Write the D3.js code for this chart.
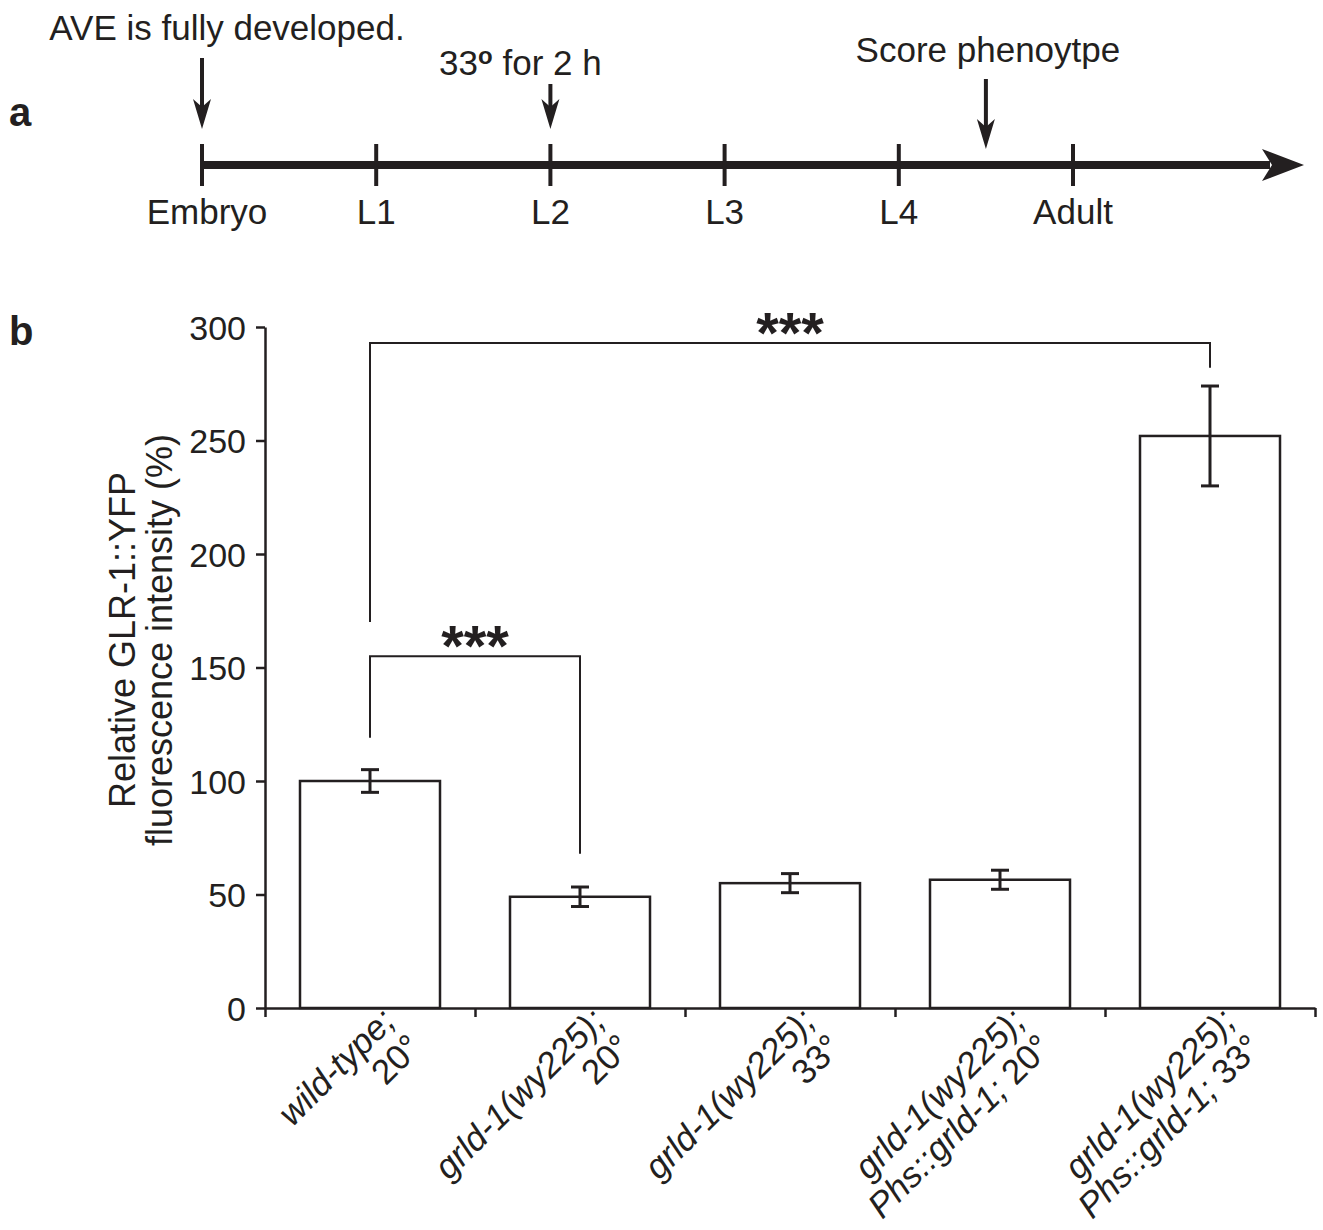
<!DOCTYPE html>
<html>
<head>
<meta charset="utf-8">
<script src="https://cdn.jsdelivr.net/npm/d3@7"></script>
<style>
  body { margin: 0; background: #fff; }
  text { font-family: "Liberation Sans", Arial, sans-serif; fill: #231f20; }
</style>
</head>
<body>
<script>
// ---- panel a: timeline ----
var stages = ["Embryo", "L1", "L2", "L3", "L4", "Adult"];
var eventLabels = ["AVE is fully developed.", "33", "Score phenoytpe"];
var eventStage = [0, 2, 4.5];   // where each arrow points on the timeline

// ---- panel b: bar chart ----
var genotypes = ["wild-type;", "grld-1(wy225);", "grld-1(wy225);", "grld-1(wy225);", "grld-1(wy225);"];
var transgenes = ["", "", "", "Phs::grld-1;", "Phs::grld-1;"];
var temps = ["20°", "20°", "33°", "20°", "33°"];
var means = [100, 49, 55, 56.5, 252];
var errors = [5, 4.3, 4.2, 4.2, 22];
var yTicks = [0, 50, 100, 150, 200, 250, 300];
// significance brackets
var sigFrom = [0, 0];
var sigTo = [1, 4];
var sigTop = [155, 293];
var sigLeftEnd = [119, 170];
var sigRightEnd = [68, 282];
var sigLabels = ["***", "***"];

var ink = "#231f20";

var svg = d3.select("body").append("svg")
    .attr("width", 1323)
    .attr("height", 1230);

// panel letters
svg.append("text").attr("x", 9).attr("y", 126)
    .style("font-size", "40px").style("font-weight", "bold").text("a");
svg.append("text").attr("x", 9).attr("y", 345)
    .style("font-size", "40px").style("font-weight", "bold").text("b");

// ---------- timeline ----------
var lineY = 165;
var t = d3.scaleLinear().domain([0, 5]).range([202, 1073]);
var tl = svg.append("g");

tl.append("line")
    .attr("x1", t(0)).attr("x2", 1270)
    .attr("y1", lineY).attr("y2", lineY)
    .attr("stroke", ink).attr("stroke-width", 8);

tl.append("path")
    .attr("d", "M1304," + lineY + " L1262," + (lineY - 16) + " L1272," + lineY + " L1262," + (lineY + 16) + " Z")
    .attr("fill", ink);

tl.selectAll(".stage-tick")
    .data(stages)
  .enter().append("line")
    .attr("class", "stage-tick")
    .attr("x1", function(d, i) { return t(i); })
    .attr("x2", function(d, i) { return t(i); })
    .attr("y1", lineY - 21).attr("y2", lineY + 21)
    .attr("stroke", ink).attr("stroke-width", 4);

tl.selectAll(".stage-label")
    .data(stages)
  .enter().append("text")
    .attr("class", "stage-label")
    .attr("x", function(d, i) { return t(i) + (i == 0 ? 5 : 0); })
    .attr("y", 224)
    .attr("text-anchor", "middle")
    .style("font-size", "35px")
    .text(function(d) { return d; });

// event arrows: text offset, text baseline, arrow top, arrow tip
var evLayout = [
  {dx: 25, ty: 40, y0: 58, y1: 129},
  {dx: -30, ty: 75, y0: 84, y1: 129},
  {dx: 2, ty: 62, y0: 79, y1: 149}
];

eventLabels.forEach(function(label, i) {
  var ax = t(eventStage[i]), L = evLayout[i];
  tl.append("line")
      .attr("x1", ax).attr("x2", ax)
      .attr("y1", L.y0).attr("y2", L.y1 - 20)
      .attr("stroke", ink).attr("stroke-width", 4);
  tl.append("path")
      .attr("d", "M" + ax + "," + L.y1 + " L" + (ax - 9) + "," + (L.y1 - 30) +
                 " L" + ax + "," + (L.y1 - 22) + " L" + (ax + 9) + "," + (L.y1 - 30) + " Z")
      .attr("fill", ink);
  var tx = tl.append("text")
      .attr("x", ax + L.dx).attr("y", L.ty)
      .attr("text-anchor", "middle")
      .style("font-size", "35px");
  if (i == 1) {
    tx.append("tspan").text(label);
    tx.append("tspan").attr("dy", -11).style("font-size", "24px").style("font-weight", "bold").text("o");
    tx.append("tspan").attr("dy", 11).text(" for 2 h");
  } else {
    tx.text(label);
  }
});

// ---------- bar chart ----------
var y = d3.scaleLinear().domain([0, 300]).range([1008, 327]);
var x = d3.scaleBand()
    .domain(d3.range(means.length))
    .range([265, 1315])
    .paddingInner(1 / 3)
    .paddingOuter(1 / 6);
var xEdge = d3.scaleLinear().domain([0, means.length]).range([265, 1315]);
var cx = function(i) { return x(i) + x.bandwidth() / 2; };

var yAxis = svg.append("g")
    .attr("transform", "translate(265,0)")
    .call(d3.axisLeft(y).tickValues(yTicks).tickSize(9).tickSizeOuter(0).tickPadding(10));
yAxis.selectAll("text").style("font-size", "34px").attr("fill", ink).attr("dy", "0.36em")
    .style("font-family", "'Liberation Sans', Arial, sans-serif");
yAxis.selectAll("line").attr("stroke", ink).attr("stroke-width", 2.5);
yAxis.select(".domain").attr("stroke", ink).attr("stroke-width", 2.5);

var xAxis = svg.append("g")
    .attr("transform", "translate(0," + y(0) + ")")
    .call(d3.axisBottom(xEdge).ticks(means.length).tickSize(9).tickSizeOuter(0).tickFormat(""));
xAxis.selectAll("line").attr("stroke", ink).attr("stroke-width", 2.5);
xAxis.select(".domain").attr("stroke", ink).attr("stroke-width", 2.5);

svg.selectAll(".bar")
    .data(means)
  .enter().append("rect")
    .attr("class", "bar")
    .attr("x", function(d, i) { return x(i); })
    .attr("y", function(d) { return y(d); })
    .attr("width", x.bandwidth())
    .attr("height", function(d) { return y(0) - y(d); })
    .attr("fill", "#fff")
    .attr("stroke", ink)
    .attr("stroke-width", 2.5);

var eb = svg.selectAll(".err")
    .data(means)
  .enter().append("g").attr("class", "err")
    .attr("stroke", ink).attr("stroke-width", 3);
eb.append("line")
    .attr("x1", function(d, i) { return cx(i); })
    .attr("x2", function(d, i) { return cx(i); })
    .attr("y1", function(d, i) { return y(d + errors[i]); })
    .attr("y2", function(d, i) { return y(d - errors[i]); });
[1, -1].forEach(function(s) {
  eb.append("line")
      .attr("x1", function(d, i) { return cx(i) - 9; })
      .attr("x2", function(d, i) { return cx(i) + 9; })
      .attr("y1", function(d, i) { return y(d + s * errors[i]); })
      .attr("y2", function(d, i) { return y(d + s * errors[i]); });
});

// significance brackets
sigLabels.forEach(function(lab, k) {
  var xa = cx(sigFrom[k]), xb = cx(sigTo[k]);
  svg.append("path")
      .attr("d", "M" + xa + "," + y(sigLeftEnd[k]) + " V" + y(sigTop[k]) +
                 " H" + xb + " V" + y(sigRightEnd[k]))
      .attr("fill", "none").attr("stroke", ink).attr("stroke-width", 2);
  svg.append("text")
      .attr("x", (xa + xb) / 2)
      .attr("y", y(sigTop[k]) + 10)
      .attr("text-anchor", "middle")
      .style("font-size", "58px").style("font-weight", "bold")
      .text(lab);
});

// y axis title
var yt = svg.append("text")
    .attr("transform", "translate(0,640) rotate(-90)")
    .attr("text-anchor", "middle")
    .style("font-size", "36px");
yt.append("tspan").attr("x", 0).attr("y", 135).text("Relative GLR-1::YFP");
yt.append("tspan").attr("x", 0).attr("y", 172).text("fluorescence intensity (%)");

// rotated category labels
var lab = svg.selectAll(".xlab")
    .data(means)
  .enter().append("text")
    .attr("class", "xlab")
    .attr("transform", function(d, i) { return "translate(" + (cx(i) + 27) + "," + 1023 + ") rotate(-45)"; })
    .attr("text-anchor", "end")
    .style("font-size", "35px");
lab.append("tspan")
    .attr("x", 0).attr("y", 0)
    .style("font-style", "italic")
    .text(function(d, i) { return genotypes[i]; });
var line2 = lab.append("tspan")
    .attr("x", 0).attr("y", 37);
line2.append("tspan")
    .style("font-style", "italic")
    .text(function(d, i) { return transgenes[i] ? transgenes[i] + " " : "\u200b"; });
line2.append("tspan")
    .text(function(d, i) { return temps[i]; });
</script>
</body>
</html>
